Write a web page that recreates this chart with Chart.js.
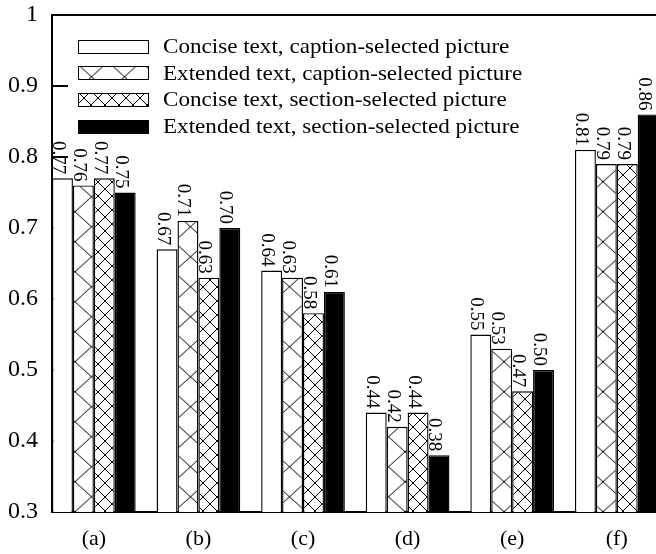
<!DOCTYPE html>
<html>
<head>
<meta charset="utf-8">
<script src="https://cdn.jsdelivr.net/npm/chart.js@4.4.0/dist/chart.umd.min.js"></script>
<style>
  html, body { margin: 0; padding: 0; background: #fff; overflow: hidden; }
  canvas { display: block; }
</style>
</head>
<body>
<canvas id="c" width="656" height="554"></canvas>
<script>
// Categories on the x axis
const categories = ['(a)', '(b)', '(c)', '(d)', '(e)', '(f)'];

// Series names
const seriesNames = [
  'Concise text, caption-selected picture',
  'Extended text, caption-selected picture',
  'Concise text, section-selected picture',
  'Extended text, section-selected picture'
];

// Scores per category
const conciseCaption   = [0.77, 0.67, 0.64, 0.44, 0.55, 0.81];
const extendedCaption  = [0.76, 0.71, 0.63, 0.42, 0.53, 0.79];
const conciseSection   = [0.77, 0.63, 0.58, 0.44, 0.47, 0.79];
const extendedSection  = [0.75, 0.70, 0.61, 0.38, 0.50, 0.86];

// Y axis ticks
const yTicks = [0.3, 0.4, 0.5, 0.6, 0.7, 0.8, 0.9, 1];

const SERIF = 'Liberation Serif';
const canvas = document.getElementById('c');
const ctx = canvas.getContext('2d');

// Cross-hatch tile: both diagonals of a w x h cell
function hatch(w, h, ox, oy) {
  const t = document.createElement('canvas');
  t.width = w; t.height = h;
  const g = t.getContext('2d');
  g.fillStyle = '#fff';
  g.fillRect(0, 0, w, h);
  g.strokeStyle = '#000';
  g.lineWidth = 1;
  g.beginPath();
  for (const c of [-h, 0, h]) {
    g.moveTo(-w, -h + c); g.lineTo(2 * w, 2 * h + c);
    g.moveTo(2 * w, -h + c); g.lineTo(-w, 2 * h + c);
  }
  g.stroke();
  const p = ctx.createPattern(t, 'repeat');
  p.setTransform(new DOMMatrix().translate(ox, oy));
  return p;
}

const wideHatch = hatch(33, 30, 75, 1.7);
const denseHatch = hatch(14, 14, 0, 0);

const seriesValues = [conciseCaption, extendedCaption, conciseSection, extendedSection];
const fills = ['#ffffff', wideHatch, denseHatch, '#000000'];

const datasets = seriesValues.map((vals, k) => ({
  label: seriesNames[k],
  data: vals.map((v, i) => ({ x: i, y: v })),
  backgroundColor: fills[k],
  borderColor: '#000',
  borderWidth: 1.4,
  borderSkipped: 'start',
  categoryPercentage: 0.8,
  barPercentage: 1.0
}));

// Short inward tick marks on the left axis
const innerTicks = {
  id: 'innerTicks',
  beforeDatasetsDraw(chart) {
    const s = chart.scales.y;
    const { left } = chart.chartArea;
    const c = chart.ctx;
    c.save();
    c.strokeStyle = '#000';
    c.lineWidth = 2;
    s.ticks.forEach(t => {
      const py = s.getPixelForValue(t.value);
      c.beginPath();
      c.moveTo(left, py);
      c.lineTo(left + 16, py);
      c.stroke();
    });
    c.restore();
  }
};

// Rotated value labels above each bar
const valueLabels = {
  id: 'valueLabels',
  afterDatasetsDraw(chart) {
    const c = chart.ctx;
    c.save();
    c.font = '19px "' + SERIF + '"';
    c.fillStyle = '#000';
    c.textAlign = 'right';
    c.textBaseline = 'alphabetic';
    chart.data.datasets.forEach((ds, k) => {
      chart.getDatasetMeta(k).data.forEach((bar, i) => {
        const v = ds.data[i].y;
        c.save();
        c.translate(bar.x - 9.5, bar.y - 4);
        c.rotate(Math.PI / 2);
        c.fillText(v.toFixed(2), 0, 0);
        c.restore();
      });
    });
    c.restore();
  }
};

// Legend stacked inside the plot area
const boxLegend = {
  id: 'boxLegend',
  afterDraw(chart) {
    const c = chart.ctx;
    const { left, top } = chart.chartArea;
    const bx = left + 26, bw = 70, bh = 13, rowGap = 26.8;
    c.save();
    c.font = '22px "' + SERIF + '"';
    c.textBaseline = 'middle';
    c.textAlign = 'left';
    chart.data.datasets.forEach((ds, k) => {
      const cy = top + 31 + k * rowGap;
      const y0 = Math.round(cy - bh / 2) + 0.5;
      c.fillStyle = ds.backgroundColor;
      c.fillRect(bx + 0.5, y0, bw, bh);
      c.strokeStyle = '#000';
      c.lineWidth = 1;
      c.strokeRect(bx + 0.5, y0, bw, bh);
      c.fillStyle = '#000';
      c.save();
      c.translate(bx + bw + 15, cy + 1);
      c.scale(1.05, 1);
      c.fillText(ds.label, 0, 0);
      c.restore();
    });
    c.restore();
  }
};

const xMin = -0.4, xMax = 5.375;

new Chart(canvas, {
  type: 'bar',
  data: { datasets },
  options: {
    responsive: false,
    animation: false,
    devicePixelRatio: 1,
    layout: { padding: { top: 15, right: 0, left: 0, bottom: 0 } },
    plugins: {
      legend: { display: false },
      tooltip: { enabled: false }
    },
    scales: {
      x: {
        type: 'linear',
        position: 'bottom',
        min: xMin,
        max: xMax,
        offset: false,
        afterBuildTicks: s => { s.ticks = categories.map((_, i) => ({ value: i })); },
        ticks: {
          callback: v => categories[v],
          autoSkip: false,
          maxRotation: 0,
          color: '#000',
          padding: 14,
          font: { family: SERIF, size: 22 }
        },
        grid: { display: false, drawTicks: false },
        border: { display: true, color: '#000', width: 2 },
        afterFit: s => { s.height = 42; s.paddingLeft = 0; s.paddingRight = 0; }
      },
      x2: {
        type: 'linear',
        position: 'top',
        min: xMin,
        max: xMax,
        ticks: { display: false },
        grid: { display: false, drawTicks: false },
        border: { display: true, color: '#000', width: 2 },
        afterFit: s => { s.height = 0; s.paddingLeft = 0; s.paddingRight = 0; }
      },
      y: {
        min: 0.3,
        max: 1,
        afterBuildTicks: s => { s.ticks = yTicks.map(v => ({ value: v })); },
        ticks: {
          callback: v => String(v),
          color: '#000',
          padding: 14,
          font: { family: SERIF, size: 24 }
        },
        grid: { display: false, drawTicks: false },
        border: { display: true, color: '#000', width: 2 },
        afterFit: s => { s.width = 52; s.paddingTop = 0; s.paddingBottom = 0; }
      }
    }
  },
  plugins: [innerTicks, valueLabels, boxLegend]
});
</script>
</body>
</html>
